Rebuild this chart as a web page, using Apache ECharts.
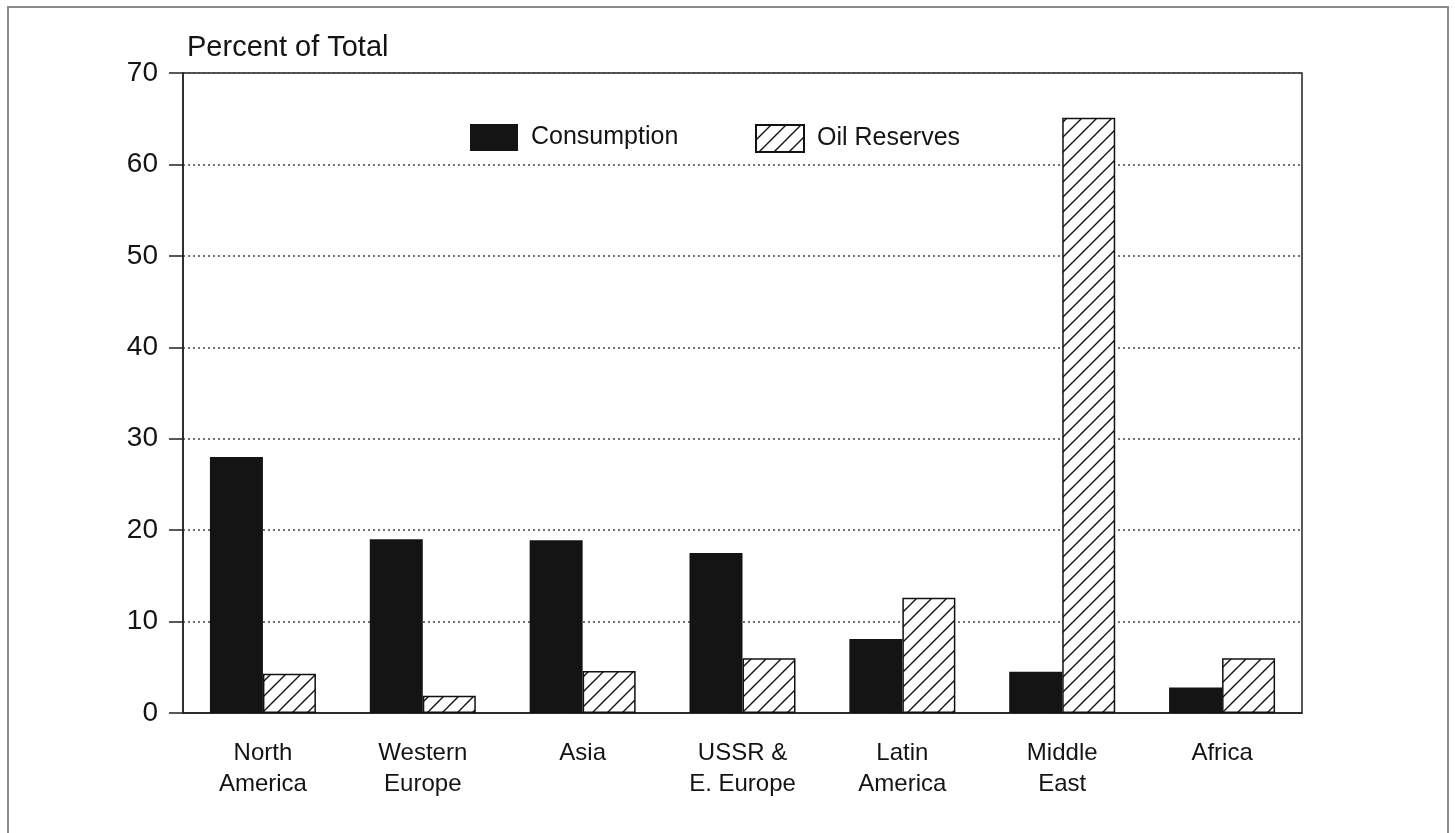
<!DOCTYPE html>
<html>
<head>
<meta charset="utf-8">
<script src="https://cdn.jsdelivr.net/npm/echarts@6/dist/echarts.min.js"></script>
<style>html,body{margin:0;padding:0;background:#fff;}#c{width:1455px;height:833px;}</style>
</head>
<body>
<div id="c"></div>
<script>
const categories = ['North\nAmerica', 'Western\nEurope', 'Asia', 'USSR &\nE. Europe', 'Latin\nAmerica', 'Middle\nEast', 'Africa'];
const consumption = [28.0, 19.0, 18.9, 17.5, 8.1, 4.5, 2.8];
const reserves = [4.3, 1.9, 4.6, 6.0, 12.6, 65.1, 6.0];
const yTicks = [0, 10, 20, 30, 40, 50, 60, 70];

function hatch() {
  const s = 15;
  const c = document.createElement('canvas');
  c.width = s; c.height = s;
  const g = c.getContext('2d');
  g.fillStyle = '#fff'; g.fillRect(0, 0, s, s);
  g.strokeStyle = '#111'; g.lineWidth = 1.4;
  g.beginPath();
  g.moveTo(-2, s + 2); g.lineTo(s + 2, -2);
  g.moveTo(-2, 2); g.lineTo(2, -2);
  g.moveTo(s - 2, s + 2); g.lineTo(s + 2, s - 2);
  g.stroke();
  return c;
}

const font = 'Liberation Sans, Arial, Helvetica, sans-serif';
const txt = '#141414';
const chart = echarts.init(document.getElementById('c'));
chart.setOption({
  backgroundColor: '#fff',
  animation: false,
  graphic: [
    { type: 'rect', shape: { x: 8, y: 7, width: 1440, height: 840 }, style: { fill: 'none', stroke: '#8a8a8a', lineWidth: 2 }, silent: true },
    { type: 'text', left: 187, top: 33, style: { text: 'Percent of Total', fontSize: 29, fontFamily: font, fill: txt } }
  ],
  legend: [
    { data: ['Consumption'], left: 470, top: 124, padding: 0, itemWidth: 48, itemHeight: 27, icon: 'rect',
      textStyle: { fontSize: 25, fontFamily: font, color: txt, padding: [0, 0, 0, 8] } },
    { data: ['Oil Reserves'], left: 755, top: 124, padding: 0, itemWidth: 48, itemHeight: 27, icon: 'rect',
      textStyle: { fontSize: 25, fontFamily: font, color: txt, padding: [0, 0, 0, 8] } }
  ],
  grid: { left: 183, top: 73, width: 1119, height: 640, show: true, borderColor: '#222', borderWidth: 1.5, containLabel: false },
  xAxis: {
    type: 'category',
    data: categories,
    axisLine: { lineStyle: { color: '#222', width: 1.5 } },
    axisTick: { alignWithLabel: true, length: 13, lineStyle: { color: '#222', width: 1.5 } },
    axisLabel: { fontSize: 24, fontFamily: font, color: txt, lineHeight: 31, margin: 25 }
  },
  yAxis: {
    type: 'value', min: yTicks[0], max: yTicks[yTicks.length - 1], interval: 10,
    axisLine: { show: true, lineStyle: { color: '#222', width: 1.5 } },
    axisTick: { show: true, length: 14, lineStyle: { color: '#222', width: 1.5 } },
    axisLabel: { fontSize: 28, fontFamily: font, color: txt, margin: 25 },
    splitLine: { show: true, lineStyle: { type: [2, 3], color: '#444', width: 1.5 } }
  },
  series: [
    { name: 'Consumption', type: 'bar', data: consumption, barWidth: 53, barGap: '0%',
      itemStyle: { color: '#141414' } },
    { name: 'Oil Reserves', type: 'bar', data: reserves, barWidth: 53, barGap: '0%',
      itemStyle: { color: { image: hatch(), repeat: 'repeat' }, borderColor: '#111', borderWidth: 1.5 } }
  ]
});
</script>
</body>
</html>
